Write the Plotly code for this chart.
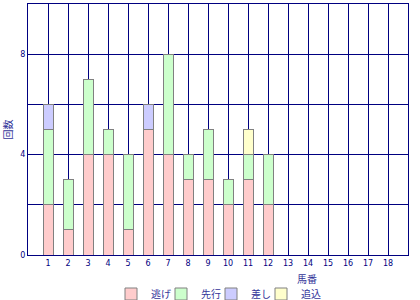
import plotly.graph_objects as go

horses = list(range(1, 19))
nige = [2, 1, 4, 4, 1, 5, 4, 3, 3, 2, 3, 2, 0, 0, 0, 0, 0, 0]
senko = [3, 2, 3, 1, 3, 0, 4, 1, 2, 1, 1, 2, 0, 0, 0, 0, 0, 0]
sashi = [1, 0, 0, 0, 0, 1, 0, 0, 0, 0, 0, 0, 0, 0, 0, 0, 0, 0]
oikomi = [0, 0, 0, 0, 0, 0, 0, 0, 0, 0, 1, 0, 0, 0, 0, 0, 0, 0]
series = [("逃げ", nige, "#FFCCCC"), ("先行", senko, "#CCFFCC"),
          ("差し", sashi, "#CCCCFF"), ("追込", oikomi, "#FFFFCC")]

navy = "#000080"
cjk = "Noto Sans CJK JP"

fig = go.Figure()
for name, vals, col in series:
    fig.add_trace(go.Bar(x=horses, y=vals, name=name, width=0.5,
                         marker=dict(color=col, line=dict(color="#808080", width=1))))
# invisible spacer entry so the last legend label is not clipped
fig.add_trace(go.Bar(x=[None], y=[None], name=" ", showlegend=True, hoverinfo="skip",
                     marker=dict(color="rgba(0,0,0,0)", line=dict(width=0))))

fig.update_layout(
    barmode="stack",
    width=420, height=300,
    margin=dict(l=28, r=12, t=4, b=45, autoexpand=False),
    plot_bgcolor="white", paper_bgcolor="white",
    font=dict(family=cjk, color=navy, size=9),
    showlegend=True,
    legend=dict(orientation="h", x=111 / 420, xanchor="left", y=0.02, yanchor="middle",
                yref="container", xref="container", font=dict(size=10, color="#333399"),
                entrywidth=5, entrywidthmode="pixels", itemwidth=30,
                traceorder="normal", bgcolor="rgba(0,0,0,0)"),
    xaxis=dict(range=[0, 19], tickvals=horses, ticktext=[str(h) for h in horses],
               showgrid=True, gridcolor=navy, gridwidth=1,
               showline=True, linecolor=navy, linewidth=1, mirror=True,
               zeroline=False, ticks="", tickfont=dict(family="DejaVu Sans", size=8, color=navy)),
    yaxis=dict(range=[0, 10], tickvals=[0, 4, 8], showgrid=True, gridcolor=navy, gridwidth=1,
               minor=dict(tickvals=[2, 6, 10], showgrid=True, gridcolor=navy, gridwidth=1),
               showline=True, linecolor=navy, linewidth=1, mirror=True,
               zeroline=False, ticks="", tickfont=dict(family="DejaVu Sans", size=8, color=navy),
               title=dict(text="回数", font=dict(family=cjk, size=10, color="#333399"), standoff=10)),
    annotations=[dict(text="馬番", xref="paper", yref="paper", x=(307 - 28) / 380, y=-0.055,
                      xanchor="center", yanchor="top", showarrow=False,
                      font=dict(family=cjk, size=10, color="#333399"))],
)

fig.write_html("out.html")
